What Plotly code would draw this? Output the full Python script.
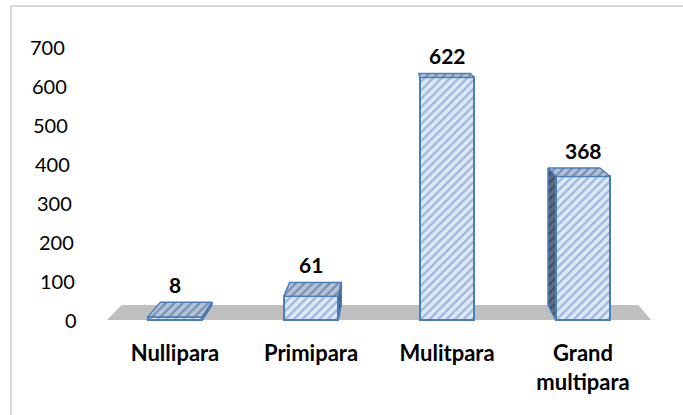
import plotly.graph_objects as go

# ---- data ----
categories = ["Nullipara", "Primipara", "Mulitpara", "Grand multipara"]
category_labels = ["Nullipara", "Primipara", "Mulitpara", "Grand<br>multipara"]
counts = [8, 61, 622, 368]
y_tick_values = [0, 100, 200, 300, 400, 500, 600, 700]

# ---- canvas / scale setup ----
W, H = 683, 415
ML, MR, MT, MB = 84, 13, 20, 77
PX_PER_CAT = 136.0      # horizontal pixels between category centres
PX_PER_UNIT = 0.39      # vertical pixels per count
X0_PX, Y0_PX = 175.0, 320.0   # pixel position of category 0 / count 0

plot_w = W - ML - MR
plot_h = H - MT - MB
x_range = [(ML - X0_PX) / PX_PER_CAT, (W - MR - X0_PX) / PX_PER_CAT]
y_range = [-(H - MB - Y0_PX) / PX_PER_UNIT, (Y0_PX - MT) / PX_PER_UNIT]

# perspective for the 3-D look (vanishing point in data units,
# separate horizontal / vertical shrink of the back plane)
VP_X = (400.0 - X0_PX) / PX_PER_CAT
VP_Y = (Y0_PX + 11.0) / PX_PER_UNIT
DEPTH_X = 0.95
DEPTH_Y = 0.955


def to_back(x, y):
    return VP_X + (x - VP_X) * DEPTH_X, VP_Y + (y - VP_Y) * DEPTH_Y


def px_x(px):
    """pixel column -> paper x fraction"""
    return (px - ML) / plot_w


def px_y(py):
    """pixel row -> paper y fraction"""
    return (H - MB - py) / plot_h


BAR_W = 0.4
HALF = BAR_W / 2
EDGE = "#4a7ebb"
FONT = "Lato"

xs = list(range(len(categories)))

fig = go.Figure()

# front faces of the columns
fig.add_trace(go.Bar(
    x=xs, y=counts, width=BAR_W,
    marker=dict(
        color="#dce6f2",
        pattern=dict(shape="/", bgcolor="#dfe8f4", fgcolor="#5688c8",
                     size=6, solidity=0.38, fillmode="overlay"),
        line=dict(color=EDGE, width=2),
    ),
    hoverinfo="skip", showlegend=False,
))

# top and side faces
for x, v in zip(xs, counts):
    l, r = x - HALF, x + HALF
    bl, bt = to_back(l, v)
    br, _ = to_back(r, v)
    top_x = [l, r, br, bl, l]
    top_y = [v, v, bt, bt, v]
    fig.add_trace(go.Scatter(
        x=top_x, y=top_y, mode="lines", fill="toself",
        fillcolor="#a9b8cc",
        fillpattern=dict(shape="/", bgcolor="#b3c3d8", fgcolor="#3a5478",
                         size=6, solidity=0.35),
        line=dict(color=EDGE, width=1.5),
        hoverinfo="skip", showlegend=False,
    ))
    _, b0 = to_back(l, 0)
    if bl < l - 0.02:     # left side visible
        bl0, _ = to_back(l, 0)
        sx = [l, l, bl, bl0, l]
        sy = [0, v, bt, b0, 0]
    elif br > r + 0.02:   # right side visible
        br0, _ = to_back(r, 0)
        sx = [r, r, br, br0, r]
        sy = [0, v, bt, b0, 0]
    else:
        sx = None
    if sx:
        fig.add_trace(go.Scatter(
            x=sx, y=sy, mode="lines", fill="toself",
            fillcolor="#4f6078",
            fillpattern=dict(shape="/", bgcolor="#5a6c85", fgcolor="#1f2d40",
                             size=6, solidity=0.35),
            line=dict(color=EDGE, width=1.5),
            hoverinfo="skip", showlegend=False,
        ))

# value labels above each column
for x, v in zip(xs, counts):
    _, bt = to_back(x, v)
    fig.add_annotation(
        x=x, y=bt, text=f"<b>{v}</b>", showarrow=False,
        xanchor="center", yanchor="bottom", yshift=3,
        font=dict(family=FONT, size=21, color="#000000"),
    )

# value-axis labels, following the slanted back wall
for v in y_tick_values:
    right_px = 79.0 - 12.0 * v / 700.0
    fig.add_annotation(
        xref="paper", yref="y",
        x=px_x(right_px), y=v, text=str(v), showarrow=False,
        xanchor="right", yanchor="middle",
        font=dict(family=FONT, size=20, color="#000000"),
    )

# grey floor
fl, fr = -0.5, 3.5
bfl, bft = to_back(fl, 0)
bfr, _ = to_back(fr, 0)
fig.add_shape(
    type="path", xref="x", yref="y", layer="below",
    path=f"M {fl},0 L {fr},0 L {bfr},{bft} L {bfl},{bft} Z",
    fillcolor="#bfbfbf", line=dict(width=0),
)

# chart frame (left and top edges)
FRAME = "#d9d9d9"
fig.add_shape(type="line", xref="paper", yref="paper",
              x0=px_x(11), x1=px_x(11), y0=px_y(6), y1=px_y(H + 5),
              line=dict(color=FRAME, width=2))
fig.add_shape(type="line", xref="paper", yref="paper",
              x0=px_x(11), x1=px_x(W + 5), y0=px_y(6), y1=px_y(6),
              line=dict(color=FRAME, width=2))

fig.update_layout(
    width=W, height=H,
    margin=dict(l=ML, r=MR, t=MT, b=MB, pad=0),
    paper_bgcolor="white", plot_bgcolor="white",
    font=dict(family=FONT, size=20, color="#000000"),
    bargap=0,
    xaxis=dict(
        range=x_range, tickmode="array", tickvals=xs,
        ticktext=[f"<b>{t}</b>" for t in category_labels],
        showgrid=False, zeroline=False, showline=False, ticks="",
        tickfont=dict(family=FONT, size=22, color="#000000"),
        fixedrange=True,
    ),
    yaxis=dict(
        range=y_range, tickmode="array", tickvals=y_tick_values,
        showticklabels=False,
        showgrid=False, zeroline=False, showline=False, ticks="",
        fixedrange=True,
    ),
)

fig.write_html("out.html")
